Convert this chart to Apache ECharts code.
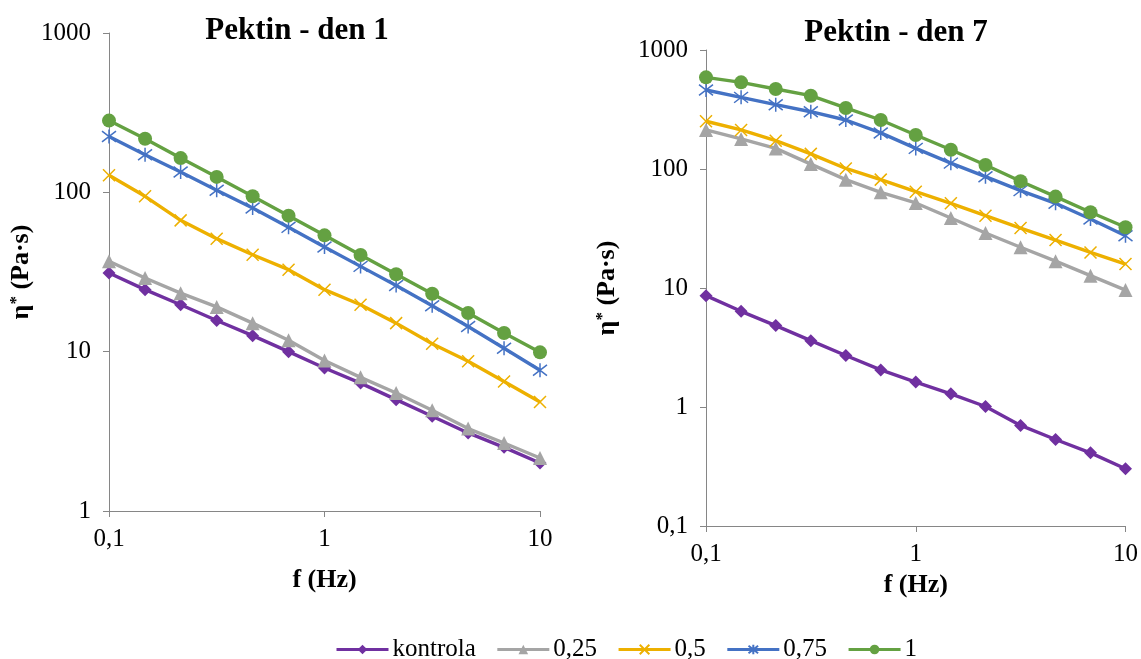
<!DOCTYPE html>
<html>
<head>
<meta charset="utf-8">
<script src="https://cdn.jsdelivr.net/npm/echarts@6/dist/echarts.min.js"></script>
<style>
  html, body { margin: 0; padding: 0; background: #fff; }
  #chart { width: 1141px; height: 659px; }
</style>
</head>
<body>
<div id="chart"></div>
<script>
// Oscillation frequencies (Hz), 6 points per decade
const frequencies = [0.1, 0.147, 0.215, 0.316, 0.464, 0.681, 1, 1.47, 2.15, 3.16, 4.64, 6.81, 10];

const seriesNames = ['kontrola', '0,25', '0,5', '0,75', '1'];

// Complex viscosity η* (Pa·s), day 1
const day1Kontrola = [31.2, 24.5, 19.7, 15.7, 12.6, 10.0, 7.9, 6.35, 5.0, 3.93, 3.09, 2.51, 2.0];
const day1P025     = [36.9, 29.0, 23.3, 19.1, 15.1, 11.8, 8.8, 6.9, 5.5, 4.29, 3.29, 2.67, 2.15];
const day1P05      = [128, 94.4, 66.7, 51.2, 40.6, 32.7, 24.5, 19.7, 15.1, 11.2, 8.7, 6.5, 4.83];
const day1P075     = [224, 172, 134, 103, 79.8, 60.3, 45.4, 34.3, 26.0, 19.4, 14.4, 10.5, 7.64];
const day1P1       = [282, 217, 164, 125, 94.4, 71.4, 53.7, 40.4, 30.6, 23.1, 17.5, 13.1, 9.9];

// Complex viscosity η* (Pa·s), day 7
const day7Kontrola = [8.62, 6.37, 4.83, 3.61, 2.71, 2.05, 1.62, 1.29, 1.01, 0.70, 0.533, 0.412, 0.303];
const day7P025     = [213, 179, 149, 110, 81.4, 63.7, 51.8, 38.7, 29.0, 22.0, 16.8, 12.7, 9.6];
const day7P05      = [252, 213, 173, 134, 101, 81.4, 64.5, 51.5, 40.5, 31.9, 25.3, 19.9, 15.9];
const day7P075     = [461, 400, 347, 303, 258, 201, 149, 112, 86.2, 65.8, 51.5, 38.0, 27.5];
const day7P1       = [589, 535, 470, 413, 326, 258, 193, 145, 108, 78.8, 58.6, 43.3, 32.4];

const panelTitles = ['Pektin - den 1', 'Pektin - den 7'];
const xAxisTitle = 'f (Hz)';

const FONT = '"Liberation Serif", "Times New Roman", serif';
const AXIS_GREY = '#868686';

const styles = [
  { color: '#7030A0', symbol: 'diamond', size: 13 },
  { color: '#A5A5A5', symbol: 'triangle', size: 14 },
  { color: '#EDB000', symbol: 'path://M0,0L10,10M10,0L0,10', size: 12 },
  { color: '#4472C4', symbol: 'path://M0,0L10,10M10,0L0,10M5,-1.5L5,11.5', size: 14 },
  { color: '#64A142', symbol: 'circle', size: 14 }
];

const day1 = [day1Kontrola, day1P025, day1P05, day1P075, day1P1];
const day7 = [day7Kontrola, day7P025, day7P05, day7P075, day7P1];

function fmt(v) {
  return String(Number(Number(v).toPrecision(6))).replace('.', ',');
}

function makeSeries(values, idx, panel) {
  const st = styles[idx];
  return {
    name: seriesNames[idx],
    type: 'line',
    xAxisIndex: panel,
    yAxisIndex: panel,
    data: frequencies.map((f, i) => [f, values[i]]),
    symbol: st.symbol,
    symbolSize: st.size,
    lineStyle: { color: st.color, width: 3.4 },
    itemStyle: { color: st.color, borderColor: st.color, borderWidth: st.symbol.startsWith('path') ? 1.5 : 0 },
    z: 2 + idx
  };
}

function xAxis(grid, nameGap) {
  return {
    type: 'log', logBase: 10, min: 0.1, max: 10, gridIndex: grid,
    name: xAxisTitle, nameLocation: 'middle', nameGap: nameGap,
    nameTextStyle: { fontFamily: FONT, fontSize: 26, fontWeight: 'bold', color: '#000' },
    axisLine: { show: true, lineStyle: { color: AXIS_GREY, width: 1 } },
    axisTick: { show: true, inside: false, length: 6, lineStyle: { color: AXIS_GREY } },
    minorTick: { show: false },
    splitLine: { show: false },
    axisLabel: { fontFamily: FONT, fontSize: 25, color: '#000', margin: 16, formatter: fmt }
  };
}

function yAxis(grid, min, nameGap) {
  return {
    type: 'log', logBase: 10, min: min, max: 1000, gridIndex: grid,
    name: '{e|η}{s|*}{e| (Pa·s)}', nameLocation: 'middle', nameGap: nameGap,
    nameTextStyle: {
      fontFamily: FONT, fontSize: 26, fontWeight: 'bold', color: '#000',
      rich: {
        e: { fontFamily: FONT, fontSize: 26, fontWeight: 'bold', color: '#000' },
        s: { fontFamily: FONT, fontSize: 17, fontWeight: 'bold', color: '#000', verticalAlign: 'top' }
      }
    },
    axisLine: { show: true, lineStyle: { color: AXIS_GREY, width: 1 } },
    axisTick: { show: true, inside: false, length: 6, lineStyle: { color: AXIS_GREY } },
    minorTick: { show: false },
    splitLine: { show: false },
    axisLabel: { fontFamily: FONT, fontSize: 25, color: '#000', margin: 18, formatter: fmt }
  };
}

const chart = echarts.init(document.getElementById('chart'), null, { renderer: 'canvas' });

chart.setOption({
  animation: false,
  backgroundColor: '#fff',
  title: [
    { text: panelTitles[0], left: 292, top: 10, textAlign: 'center',
      textStyle: { fontFamily: FONT, fontSize: 31, fontWeight: 'bold', color: '#000' } },
    { text: panelTitles[1], left: 891, top: 12, textAlign: 'center',
      textStyle: { fontFamily: FONT, fontSize: 31, fontWeight: 'bold', color: '#000' } }
  ],
  grid: [
    { left: 109, right: 601, top: 33, bottom: 148 },
    { left: 706, right: 14, top: 50, bottom: 133 }
  ],
  xAxis: [xAxis(0, 56), xAxis(1, 43)],
  yAxis: [yAxis(0, 1, 75), yAxis(1, 0.1, 86)],
  legend: {
    data: seriesNames,
    left: 330, top: 632,
    itemWidth: 52, itemHeight: 12, itemGap: 20,
    lineStyle: { width: 3 },
    textStyle: { fontFamily: FONT, fontSize: 25, color: '#000', padding: [0, 0, 0, -1] }
  },
  series: [
    ...day1.map((v, i) => makeSeries(v, i, 0)),
    ...day7.map((v, i) => makeSeries(v, i, 1))
  ]
});
</script>
</body>
</html>
